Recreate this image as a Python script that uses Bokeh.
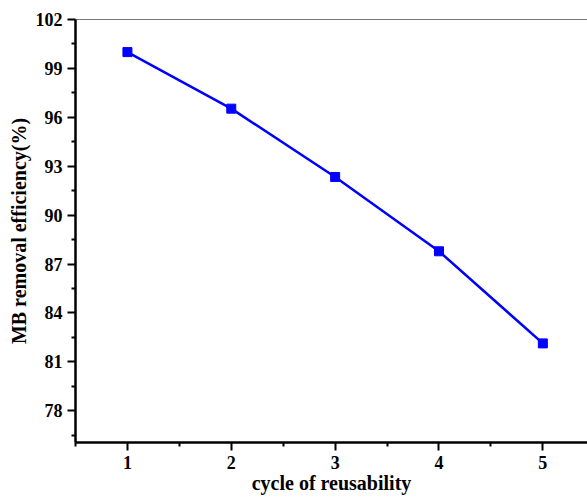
from bokeh.plotting import figure
from bokeh.models import LinearAxis, FixedTicker, Range1d
from bokeh.embed import file_html
from bokeh.resources import INLINE

cycles = [1, 2, 3, 4, 5]
efficiency = [100.0, 96.53, 92.34, 87.78, 82.13]
x_ticks = [1, 2, 3, 4, 5]
y_ticks = [78, 81, 84, 87, 90, 93, 96, 99, 102]

FONT = "Liberation Serif"

p = figure(width=587, height=497, output_backend="svg", toolbar_location=None,
           x_range=Range1d(0.5, 5.43), y_range=Range1d(76.05, 102),
           min_border_left=75, min_border_right=0, min_border_top=19, min_border_bottom=55)
p.outline_line_color = None
p.grid.visible = False
p.background_fill_color = "white"

p.line(cycles, efficiency, line_color="#0000FF", line_width=2.5)
p.scatter(cycles, efficiency, marker="square", size=9, fill_color="#0000FF", line_color="#0000FF")

for ax in (p.xaxis[0], p.yaxis[0]):
    ax.axis_line_width = 2.5
    ax.axis_line_color = "black"
    ax.major_tick_line_width = 2
    ax.minor_tick_line_width = 2
    ax.major_tick_in = 0
    ax.minor_tick_in = 0
    ax.major_tick_out = 8
    ax.minor_tick_out = 4
    ax.major_label_text_font = FONT
    ax.major_label_text_font_style = "bold"
    ax.major_label_text_font_size = "18px"
    ax.major_label_text_color = "black"
    ax.axis_label_text_font = FONT
    ax.axis_label_text_font_style = "bold"
    ax.axis_label_text_font_size = "20px"
    ax.axis_label_text_color = "black"

p.xaxis[0].ticker = FixedTicker(ticks=x_ticks, minor_ticks=[0.5, 1.5, 2.5, 3.5, 4.5, 5.5])
p.yaxis[0].ticker = FixedTicker(ticks=y_ticks, minor_ticks=[76.5 + 3 * i for i in range(9)])
p.xaxis[0].axis_label = "cycle of reusability"
p.yaxis[0].axis_label = "MB removal efficiency(%)"
p.xaxis[0].major_label_standoff = 5
p.yaxis[0].major_label_standoff = 5
p.xaxis[0].axis_label_standoff = 0
p.yaxis[0].axis_label_standoff = 3

top = LinearAxis(ticker=FixedTicker(ticks=[]), axis_line_color="#777777", axis_line_width=1,
                 major_tick_out=0, minor_tick_out=0, major_tick_in=0, minor_tick_in=0,
                 major_label_text_font_size="0px", major_label_standoff=0)
p.add_layout(top, "above")

open("out.html", "w").write(file_html(p, INLINE))
